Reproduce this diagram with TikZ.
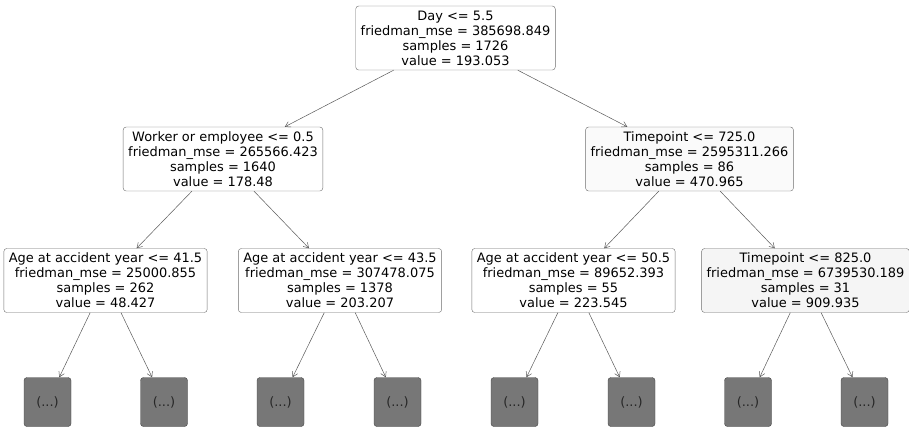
\documentclass[tikz,border=0pt]{standalone}
\usepackage{fontspec}
\setmainfont{DejaVu Sans}
\usepackage{xcolor}
\usepackage{tikz}
\usetikzlibrary{arrows.meta}
\definecolor{cline}{HTML}{6E6E6E}
\definecolor{carrow}{HTML}{5A5A5A}
\definecolor{cleaf}{HTML}{777777}
\definecolor{cleafline}{HTML}{444444}
\definecolor{cfillb}{HTML}{FAFAFA}
\definecolor{cfillc}{HTML}{F5F5F5}

\begin{document}
\begin{tikzpicture}[
      x=1bp,y=-1bp,
      font=\fontsize{13}{15}\selectfont,
      split/.style={draw=cline,fill=white,rounded corners=3pt,align=center,
                    minimum height=64bp,inner xsep=5bp,inner ysep=2bp},
      leaf/.style={draw=cleafline,fill=cleaf,rounded corners=3pt,
                   minimum width=47bp,minimum height=49bp,text=black!85},
      ar/.style={-{Straight Barb[length=5pt,width=6pt]},draw=carrow,line width=0.5pt}]

    \useasboundingbox (0,0) rectangle (909,428);

    \node[split] (day) at (455.5,38) {Day <= 5.5\\friedman\_mse = 385698.849\\samples = 1726\\value = 193.053};

    \node[split] (worker) at (223,159) {Worker or employee <= 0.5\\friedman\_mse = 265566.423\\samples = 1640\\value = 178.48};
    \node[split,fill=cfillb] (time1) at (689.5,159) {Timepoint <= 725.0\\friedman\_mse = 2595311.266\\samples = 86\\value = 470.965};

    \node[split] (age1) at (105.5,280.5) {Age at accident year <= 41.5\\friedman\_mse = 25000.855\\samples = 262\\value = 48.427};
    \node[split] (age2) at (340,280.5) {Age at accident year <= 43.5\\friedman\_mse = 307478.075\\samples = 1378\\value = 203.207};
    \node[split] (age3) at (573.5,280.5) {Age at accident year <= 50.5\\friedman\_mse = 89652.393\\samples = 55\\value = 223.545};
    \node[split,fill=cfillc] (time2) at (805.5,280.5) {Timepoint <= 825.0\\friedman\_mse = 6739530.189\\samples = 31\\value = 909.935};

    \foreach \name/\xpos in {l1/47.5,l2/164,l3/280.5,l4/397.5,l5/514.5,l6/631.5,l7/748,l8/864.5}
      \node[leaf] (\name) at (\xpos,402) {(...)};

    \draw[ar] (day) -- (worker);
    \draw[ar] (day) -- (time1);
    \draw[ar] (worker) -- (age1);
    \draw[ar] (worker) -- (age2);
    \draw[ar] (time1) -- (age3);
    \draw[ar] (time1) -- (time2);
    \draw[ar] (age1) -- (l1);
    \draw[ar] (age1) -- (l2);
    \draw[ar] (age2) -- (l3);
    \draw[ar] (age2) -- (l4);
    \draw[ar] (age3) -- (l5);
    \draw[ar] (age3) -- (l6);
    \draw[ar] (time2) -- (l7);
    \draw[ar] (time2) -- (l8);
  \end{tikzpicture}
\end{document}
